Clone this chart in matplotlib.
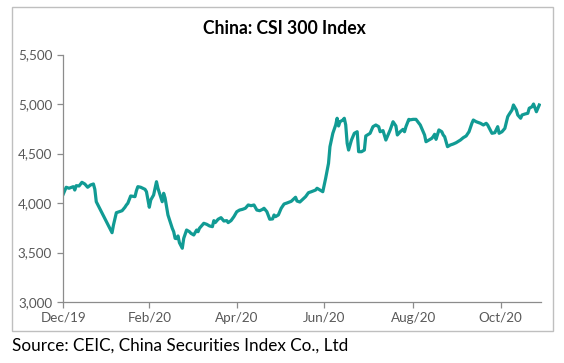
import numpy as np
import pandas as pd
import matplotlib
matplotlib.use('Agg')
import matplotlib.pyplot as plt
import matplotlib.dates as mdates
from matplotlib.ticker import FuncFormatter
from matplotlib.patches import Rectangle

# data
dates = [
    '2019-12-31', '2020-01-02', '2020-01-04', '2020-01-07', '2020-01-08', '2020-01-09',
    '2020-01-11', '2020-01-13', '2020-01-15', '2020-01-17', '2020-01-19', '2020-01-21',
    '2020-01-22', '2020-01-23', '2020-02-03', '2020-02-04', '2020-02-06', '2020-02-08',
    '2020-02-10', '2020-02-12', '2020-02-13', '2020-02-14', '2020-02-16', '2020-02-19',
    '2020-02-20', '2020-02-21', '2020-02-23', '2020-02-26', '2020-02-27', '2020-02-29',
    '2020-03-01', '2020-03-03', '2020-03-05', '2020-03-06', '2020-03-09', '2020-03-10',
    '2020-03-11', '2020-03-13', '2020-03-16', '2020-03-17', '2020-03-18', '2020-03-19',
    '2020-03-20', '2020-03-21', '2020-03-23', '2020-03-24', '2020-03-26', '2020-03-28',
    '2020-03-29', '2020-03-31', '2020-04-02', '2020-04-03', '2020-04-04', '2020-04-07',
    '2020-04-09', '2020-04-11', '2020-04-13', '2020-04-14', '2020-04-15', '2020-04-17',
    '2020-04-19', '2020-04-21', '2020-04-23', '2020-04-24', '2020-04-26', '2020-04-28',
    '2020-04-30', '2020-05-02', '2020-05-04', '2020-05-06', '2020-05-08', '2020-05-10',
    '2020-05-12', '2020-05-14', '2020-05-16', '2020-05-18', '2020-05-19', '2020-05-21',
    '2020-05-23', '2020-05-25', '2020-05-26', '2020-05-27', '2020-05-29', '2020-05-31',
    '2020-06-02', '2020-06-04', '2020-06-07', '2020-06-10', '2020-06-11', '2020-06-13',
    '2020-06-15', '2020-06-17', '2020-06-19', '2020-06-21', '2020-06-24', '2020-06-25',
    '2020-06-27', '2020-06-29', '2020-07-01', '2020-07-03', '2020-07-04', '2020-07-06',
    '2020-07-08', '2020-07-09', '2020-07-10', '2020-07-11', '2020-07-13', '2020-07-14',
    '2020-07-15', '2020-07-16', '2020-07-17', '2020-07-19', '2020-07-21', '2020-07-23',
    '2020-07-24', '2020-07-26', '2020-07-28', '2020-07-29', '2020-08-01', '2020-08-03',
    '2020-08-05', '2020-08-07', '2020-08-08', '2020-08-10', '2020-08-12', '2020-08-15',
    '2020-08-17', '2020-08-19', '2020-08-20', '2020-08-22', '2020-08-24', '2020-08-25',
    '2020-08-26', '2020-08-28', '2020-08-29', '2020-08-31', '2020-09-02', '2020-09-05',
    '2020-09-07', '2020-09-08', '2020-09-09', '2020-09-11', '2020-09-13', '2020-09-14',
    '2020-09-15', '2020-09-16', '2020-09-18', '2020-09-20', '2020-09-21', '2020-09-22',
    '2020-09-24', '2020-09-26', '2020-09-28', '2020-09-30', '2020-10-03', '2020-10-05',
    '2020-10-07', '2020-10-09', '2020-10-11', '2020-10-12', '2020-10-14', '2020-10-17',
    '2020-10-19', '2020-10-21', '2020-10-22', '2020-10-24', '2020-10-25', '2020-10-27',
    '2020-10-29', '2020-10-30', '2020-11-01', '2020-11-03', '2020-11-05', '2020-11-06',
    '2020-11-08', '2020-11-09', '2020-11-11', '2020-11-12', '2020-11-14', '2020-11-15',
    '2020-11-17', '2020-11-19', '2020-11-20', '2020-11-22', '2020-11-23', '2020-11-25',
    '2020-11-26', '2020-11-27',
]
values = [
    4091, 4159, 4149, 4165, 4131, 4175,
    4172, 4209, 4192, 4159, 4182, 4192,
    4138, 4013, 3700, 3778, 3902, 3912,
    3922, 3957, 3980, 3997, 4071, 4064,
    4124, 4165, 4159, 4138, 4114, 3957,
    4030, 4081, 4215, 4149, 4013, 4098,
    4050, 3879, 3745, 3710, 3643, 3640,
    3667, 3599, 3543, 3643, 3727, 3710,
    3694, 3677, 3727, 3710, 3745, 3795,
    3785, 3768, 3761, 3822, 3802, 3836,
    3852, 3818, 3822, 3802, 3822, 3862,
    3912, 3929, 3936, 3947, 3980, 3973,
    3980, 3929, 3922, 3936, 3947, 3912,
    3836, 3839, 3879, 3862, 3879, 3947,
    3990, 4000, 4017, 4058, 4020, 4010,
    4037, 4064, 4104, 4114, 4131, 4149,
    4131, 4114, 4250, 4401, 4569, 4704,
    4788, 4856, 4778, 4821, 4838, 4856,
    4788, 4603, 4535, 4636, 4704, 4720,
    4518, 4518, 4535, 4677, 4704, 4771,
    4788, 4771, 4720, 4731, 4636, 4738,
    4821, 4778, 4687, 4720, 4744, 4720,
    4771, 4845, 4840, 4845, 4845, 4788,
    4720, 4687, 4619, 4636, 4653, 4670,
    4694, 4643, 4738, 4720, 4687, 4670,
    4569, 4586, 4596, 4609, 4636, 4660,
    4677, 4720, 4805, 4838, 4821, 4805,
    4788, 4805, 4788, 4731, 4704, 4710,
    4771, 4704, 4720, 4754, 4872, 4896,
    4940, 4990, 4940, 4889, 4856, 4889,
    4899, 4906, 4957, 4973, 5000, 4922,
    4957, 4990,
]

tick_dates = ['2019-12-31', '2020-02-29', '2020-04-30', '2020-06-30', '2020-08-31', '2020-10-31']
tick_labels = ['Dec/19', 'Feb/20', 'Apr/20', 'Jun/20', 'Aug/20', 'Oct/20']
y_ticks = [3000, 3500, 4000, 4500, 5000, 5500]

plt.rcParams['font.family'] = ['Lato', 'DejaVu Sans']

fig = plt.figure(figsize=(5.64, 3.63), dpi=100)

# chart border
fig.patches.append(Rectangle((12 / 564, 1 - 331 / 363), 541 / 564, 324 / 363,
                             transform=fig.transFigure, fill=False,
                             edgecolor='#BFBFBF', linewidth=1))

ax = fig.add_axes([63.3 / 564, 1 - 302 / 363, 477.4 / 564, 247.5 / 363])
ax.plot(pd.to_datetime(dates), values, color='#119B94', linewidth=2.3)

ax.set_xlim(pd.Timestamp('2019-12-31'), pd.Timestamp('2020-11-28'))
ax.set_ylim(3000, 5500)
ax.set_yticks(y_ticks)
ax.yaxis.set_major_formatter(FuncFormatter(lambda v, p: f'{v:,.0f}'))
ax.set_xticks(pd.to_datetime(tick_dates))
ax.set_xticklabels(tick_labels)

for s in ['top', 'right']:
    ax.spines[s].set_visible(False)
for s in ['left', 'bottom']:
    ax.spines[s].set_color('#8C8C8C')
    ax.spines[s].set_linewidth(0.9)
ax.tick_params(colors='#8C8C8C', labelcolor='#595959', labelsize=9.7, length=4, width=0.9)
ax.tick_params(axis='x', pad=3)
ax.tick_params(axis='y', pad=4)

fig.text(284 / 564, 1 - 28 / 363, 'China: CSI 300 Index', ha='center', va='center',
         fontsize=12.7, fontweight='bold', color='black')
fig.text(12 / 564, 1 - 346 / 363, 'Source: CEIC, China Securities Index Co., Ltd',
         ha='left', va='center', fontsize=12.3, color='black')

fig.savefig('out.png', dpi=100)
